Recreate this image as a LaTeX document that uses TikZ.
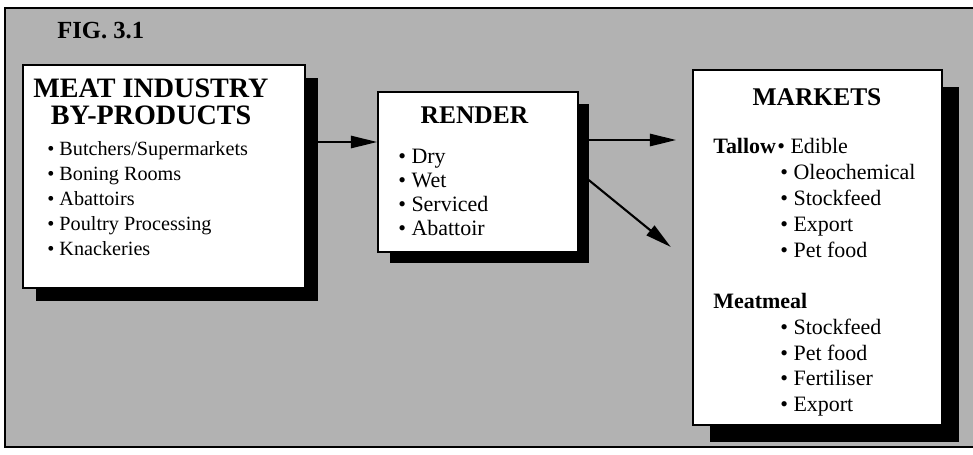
\documentclass[tikz,border=0pt]{standalone}
\usepackage{fontspec}
\setmainfont{Liberation Serif}
\usetikzlibrary{arrows.meta,shadows}
\tikzset{
  panel/.style={rectangle,draw=black,line width=1pt,fill=white,
                general shadow={fill=black,shadow xshift=#1,shadow yshift=-#1}},
  panel/.default=0.26cm,
  head/.style={anchor=base,inner sep=0pt,font=\fontsize{14.5}{16}\selectfont\bfseries},
  item/.style={anchor=base west,inner sep=0pt,font=\fontsize{12.5}{14}\selectfont},
  arr/.style={-{Triangle[length=15pt,width=7pt]},line width=1.2pt},
}

\begin{document}
\begin{tikzpicture}[x=0.02cm,y=-0.02cm]
    \useasboundingbox (0,0) rectangle (973,454);
    % halftone background and frame
    \fill[black!30] (5,8) rectangle (973,447);
    \draw[line width=1pt] (973,8) -- (5,8) -- (5,447) -- (973,447);
    \node[anchor=base west,inner sep=0pt,font=\fontsize{14}{16}\selectfont\bfseries]
          (fig) at (57,38) {FIG. 3.1};
    % boxes
    \node[panel,minimum width=5.64cm,minimum height=4.46cm] (meat) at (164,176.5) {};
    \node[panel=0.23cm,minimum width=4cm,minimum height=3.2cm] (render) at (478,172) {};
    \node[panel=0.34cm,minimum width=4.98cm,minimum height=7.1cm] (markets) at (817.5,247.5) {};
    % meat industry
    \node[head,font=\fontsize{16}{17}\selectfont\bfseries] (meat-t1) at (151,97) {MEAT INDUSTRY};
    \node[head,font=\fontsize{16}{17}\selectfont\bfseries] (meat-t2) at (151,124) {BY-PRODUCTS};
    \foreach \txt [count=\i] in {{Butchers/Supermarkets},Boning Rooms,Abattoirs,
        Poultry Processing,Knackeries}{
      \node[item,font=\fontsize{11.5}{14}\selectfont] (meat-\i) at (47,{129.8+25.2*\i})
            {\textbullet\ \txt};
    }
    % render
    \node[head] (render-t) at (474.5,123) {RENDER};
    \foreach \txt [count=\i] in {Dry,Wet,Serviced,Abattoir}{
      \node[item] (render-\i) at (398,{139+24*\i}) {\textbullet\ \txt};
    }
    % markets
    \node[head] (markets-t) at (817,105) {MARKETS};
    \node[item,font=\fontsize{12.5}{14}\selectfont\bfseries] (tallow) at (713,153) {Tallow};
    \node[item] (tallow-1) at (777,153) {\textbullet\ Edible};
    \foreach \txt [count=\i from 2] in {Oleochemical,Stockfeed,Export,Pet food}{
      \node[item] (tallow-\i) at (780,{127+26*\i}) {\textbullet\ \txt};
    }
    \node[item,font=\fontsize{12.5}{14}\selectfont\bfseries] (meatmeal) at (713,308) {Meatmeal};
    \foreach \txt [count=\i] in {Stockfeed,Pet food,Fertiliser,Export}{
      \node[item] (meatmeal-\i) at (780,{309+25.5*\i}) {\textbullet\ \txt};
    }
    % connectors
    \coordinate (r-in) at ([shift={(0,-30)}]render.west);
    \coordinate (r-out) at ([shift={(0,-32)}]render.east);
    \coordinate (tip) at ([shift={(92,75)}]render.east);
    \draw[arr] (meat.east |- r-in) -- (r-in);
    \draw[arr,shorten >=0.32cm] (r-out) -- (markets.west |- r-out);
    \draw[arr] (render.east) -- (tip);
  \end{tikzpicture}
\end{document}
